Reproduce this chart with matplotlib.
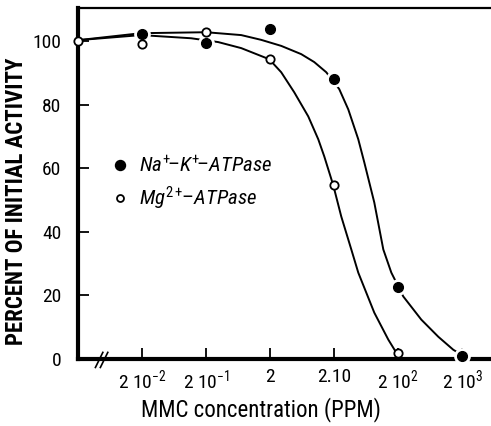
import matplotlib
matplotlib.use("Agg")
import matplotlib.pyplot as plt
from matplotlib.lines import Line2D

plt.rcParams["font.family"] = ["Roboto Condensed", "DejaVu Sans"]
plt.rcParams["font.stretch"] = "condensed"
plt.rcParams["mathtext.fontset"] = "custom"
plt.rcParams["mathtext.rm"] = "Roboto Condensed"
plt.rcParams["mathtext.it"] = "Roboto Condensed:italic"

# concentrations (PPM); control (no MMC) drawn at the axis break
conc = [2e-2, 2e-1, 2, 20, 200, 2000]
tick_labels = ["2 10$^{-2}$", "2 10$^{-1}$", "2", "2.10", "2 10$^{2}$", "2 10$^{3}$"]
control_conc = 2e-3
control_val = 100

nak_conc = [2e-2, 2e-1, 2, 20, 200, 2000]
nak_val = [102.2, 99.4, 103.8, 88.0, 22.7, 0.9]
mg_conc = [2e-2, 2e-1, 2, 20, 200]
mg_val = [99.0, 102.8, 94.3, 54.6, 1.9]

# fitted curves as drawn in the original
nak_curve_x = [0.002, 0.0193, 0.2, 0.705, 1.445, 2.97, 6.1, 9.74, 15.0, 23.9,
               33.1, 47.4, 58.9, 84.3, 116.6, 155.6, 239, 457, 843, 1446, 2074]
nak_curve_y = [100.3, 102.5, 102.8, 101.9, 100.4, 98.5, 95.9, 93.4, 90.2, 84.9,
               78.5, 69.1, 61.8, 49.2, 34.4, 27.1, 19.6, 12.3, 6.9, 2.8, 0.9]
mg_curve_x = [0.002, 0.0193, 0.1167, 0.308, 0.705, 1.93, 2.97, 4.74, 7.85,
              11.25, 13.96, 19.3, 25.7, 36.9, 47.4, 84.3, 139.6, 186]
mg_curve_y = [100.3, 101.9, 100.9, 99.7, 97.8, 94.3, 90.2, 83.9, 76.3,
              69.1, 63.7, 54.6, 44.8, 34.4, 27.1, 14.5, 6.0, 1.9]

fig = plt.figure(figsize=(4.91, 4.26), dpi=100)
ax = fig.add_axes([0.159, 0.158, 0.841, 0.823])

ax.plot(nak_curve_x, nak_curve_y, color="black", lw=1.4, zorder=2)
ax.plot(mg_curve_x, mg_curve_y, color="black", lw=1.4, zorder=2)

# white halo so the line breaks around filled dots
ax.plot(nak_conc, nak_val, "o", ms=11, color="white", zorder=3, clip_on=False)
ax.plot(nak_conc, nak_val, "o", ms=7, color="black", zorder=4, clip_on=False)
ax.plot(mg_conc, mg_val, "o", ms=6, mfc="white", mec="black", mew=1.3,
        zorder=4, clip_on=False)
ax.plot([control_conc], [control_val], "o", ms=6, mfc="white", mec="black",
        mew=1.3, zorder=5, clip_on=False)

ax.set_xscale("log")
ax.set_xlim(control_conc, 5.6e3)
ax.set_ylim(0, 110.4)
ax.set_xticks(conc)
ax.set_xticklabels(tick_labels)
ax.minorticks_off()
ax.set_yticks([0, 20, 40, 60, 80, 100])

ax.tick_params(direction="in", length=8, width=1.3, labelsize=14)
ax.tick_params(axis="x", pad=7)
ax.tick_params(axis="y", pad=12)

ax.spines["right"].set_visible(False)
ax.spines["left"].set_linewidth(3)
ax.spines["bottom"].set_linewidth(3)
ax.spines["top"].set_linewidth(1.6)

# axis break
for dx in (0.0, 0.012):
    ax.plot([0.042 + dx, 0.06 + dx], [-0.025, 0.018], color="black", lw=1.2,
            transform=ax.transAxes, clip_on=False, zorder=6)

ax.set_xlabel("MMC concentration (PPM)", fontsize=16.5)
ax.xaxis.set_label_coords(0.443, -0.11)
ax.set_ylabel("PERCENT OF INITIAL ACTIVITY", fontsize=16.5, fontweight="bold")
ax.yaxis.set_label_coords(-0.121, 0.449)

handles = [
    Line2D([], [], ls="none", marker="o", ms=7.2, color="black"),
    Line2D([], [], ls="none", marker="o", ms=5, mfc="white", mec="black", mew=1.3),
]
labels = ["$Na^{+}\\!$–$K^{+}\\!$–$ATPase$", "$Mg^{2+}\\!$–$ATPase$"]
ax.legend(handles, labels, loc="center left", bbox_to_anchor=(0.080, 0.5),
          frameon=False, fontsize=15, handletextpad=0.45, labelspacing=0.4,
          handlelength=0.9, borderpad=0, borderaxespad=0)

fig.savefig("out.png", dpi=100)
